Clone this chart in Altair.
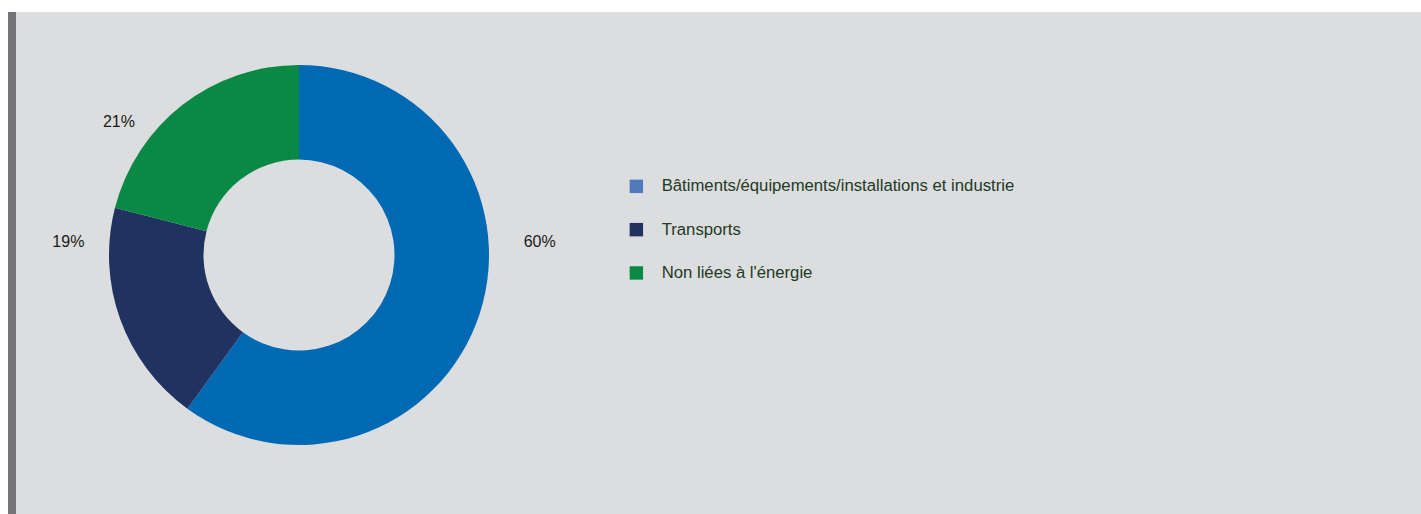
import math
import altair as alt
import pandas as pd

# ---- data ----
categories = ["Bâtiments/équipements/installations et industrie", "Transports", "Non liées à l'énergie"]
shares = [60, 19, 21]
labels = ["60%", "19%", "21%"]

# ---- style / layout ----
slice_colors = ["#0069b4", "#203260", "#0a8944"]
legend_colors = ["#4f7bbe", "#203260", "#0a8944"]
label_angle_deg = [86.9, 273.2, 306.5]
label_radius = [241, 231, 224]
CX, CY = 299, 255

df = pd.DataFrame({
    "cat": categories,
    "share": shares,
    "label": labels,
    "order": list(range(len(categories))),
    "ang": [math.radians(a) for a in label_angle_deg],
    "r": label_radius,
})

# hidden layer (drawn first, covered by the panel) that only feeds the legend
legend_layer = alt.Chart(df).mark_square(size=169, opacity=1).encode(
    fill=alt.Fill(
        "cat:N",
        scale=alt.Scale(domain=categories, range=legend_colors),
        sort=categories,
        legend=alt.Legend(
            title=None,
            orient="none",
            legendX=628,
            legendY=178,
            padding=0,
            symbolType="square",
            symbolSize=180,
            symbolOpacity=1,
            symbolStrokeWidth=0,
            labelFont="Liberation Sans",
            labelFontSize=16.7,
            labelColor="#223a24",
            labelOffset=17,
            labelLimit=700,
            rowPadding=25.3,
        ),
    ),
    x=alt.value(300),
    y=alt.value(300),
)

panel = alt.Chart(df).mark_rect(color="#dcdddf").encode(
    x=alt.value(16), x2=alt.value(1421), y=alt.value(12), y2=alt.value(514)
)
bar = alt.Chart(df).mark_rect(color="#747378").encode(
    x=alt.value(8), x2=alt.value(16), y=alt.value(12), y2=alt.value(514)
)

arcs = alt.Chart(df).mark_arc(innerRadius=95.5, outerRadius=190, stroke=None).encode(
    theta=alt.Theta("share:Q", stack=True),
    order=alt.Order("order:Q"),
    color=alt.Color("cat:N", scale=alt.Scale(domain=categories, range=slice_colors), legend=None),
    x=alt.value(CX),
    y=alt.value(CY),
)

text = alt.Chart(df).mark_text(
    font="Liberation Sans", fontSize=16, color="#1a1a1a", align="center", baseline="middle"
).encode(
    theta=alt.Theta("ang:Q", scale=None),
    radius=alt.Radius("r:Q", scale=None),
    text="label:N",
    x=alt.value(CX),
    y=alt.value(CY),
)

chart = alt.layer(legend_layer, panel, bar, arcs, text).properties(
    width=1421, height=514, background="white", padding=0,
    autosize=alt.AutoSizeParams(type="none"),
).configure_view(stroke=None)

chart.save("out.html", embed_options={"renderer": "svg", "actions": False})
